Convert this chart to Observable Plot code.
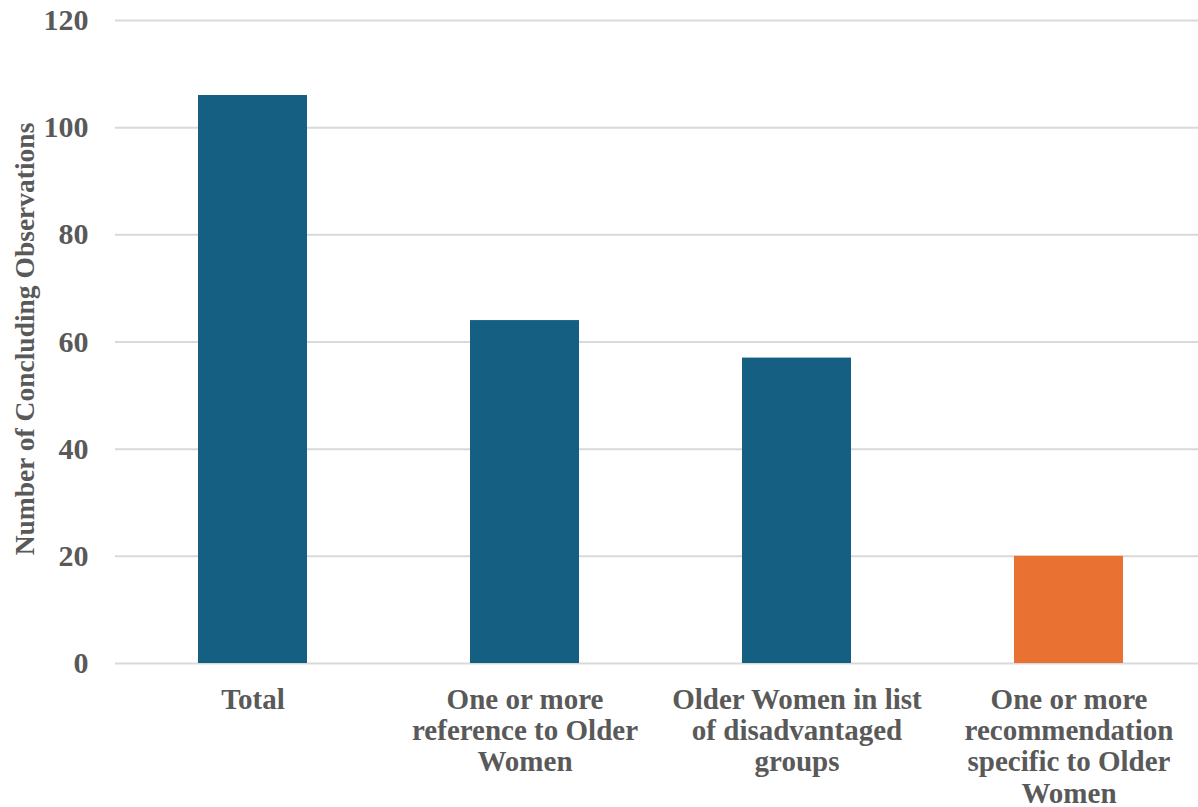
<!DOCTYPE html>
<html>
<head>
<meta charset="utf-8">
<script src="https://cdn.jsdelivr.net/npm/d3@7"></script>
<script src="https://cdn.jsdelivr.net/npm/@observablehq/plot@0.6"></script>
<style>
  html, body { margin: 0; padding: 0; background: #fff; overflow: hidden; }
  #chart svg { display: block; overflow: hidden; }
</style>
</head>
<body>
<div id="chart"></div>
<script>
const categories = ["Total", "Reference", "List", "Recommendation"];
const labels = [
  "Total",
  "One or more\nreference to Older\nWomen",
  "Older Women in list\nof disadvantaged\ngroups",
  "One or more\nrecommendation\nspecific to Older\nWomen"
];
const values = [106, 64, 57, 20];
const colors = ["#156082", "#156082", "#156082", "#E97132"];
const yTicks = [0, 20, 40, 60, 80, 100, 120];
const yTitle = "Number of Concluding Observations";

const data = categories.map((c, i) => ({cat: c, label: labels[i], value: values[i], color: colors[i]}));

const font = "'Liberation Serif', 'Times New Roman', serif";
const textColor = "#595959";

const chart = Plot.plot({
  width: 1198,
  height: 807,
  marginLeft: 115,
  marginRight: -7,
  marginTop: 20,
  marginBottom: 144,
  style: {fontFamily: font, color: textColor, background: "#fff"},
  x: {domain: categories, paddingInner: 0.6, paddingOuter: 0.3, axis: null},
  y: {domain: [0, 120], ticks: yTicks, axis: null},
  marks: [
    Plot.ruleY(yTicks, {stroke: "#d9d9d9", strokeWidth: 2}),
    Plot.barY(data, {x: "cat", y: "value", fill: "color"}),
    Plot.text(yTicks, {
      y: d => d, text: d => String(d), frameAnchor: "left", textAnchor: "end",
      dx: -27, fontSize: 30, fontWeight: "bold", fill: textColor
    }),
    Plot.text(data, {
      x: "cat", text: "label", frameAnchor: "bottom", dy: 23,
      lineAnchor: "top", lineHeight: 1.08,
      fontSize: 29, fontWeight: "bold", fill: textColor
    }),
    Plot.text([yTitle], {
      text: d => d, frameAnchor: "left", textAnchor: "middle", dx: -90, dy: -3, rotate: -90,
      fontSize: 27.5, fontWeight: "bold", fill: textColor
    })
  ]
});
document.getElementById("chart").appendChild(chart);
</script>
</body>
</html>
